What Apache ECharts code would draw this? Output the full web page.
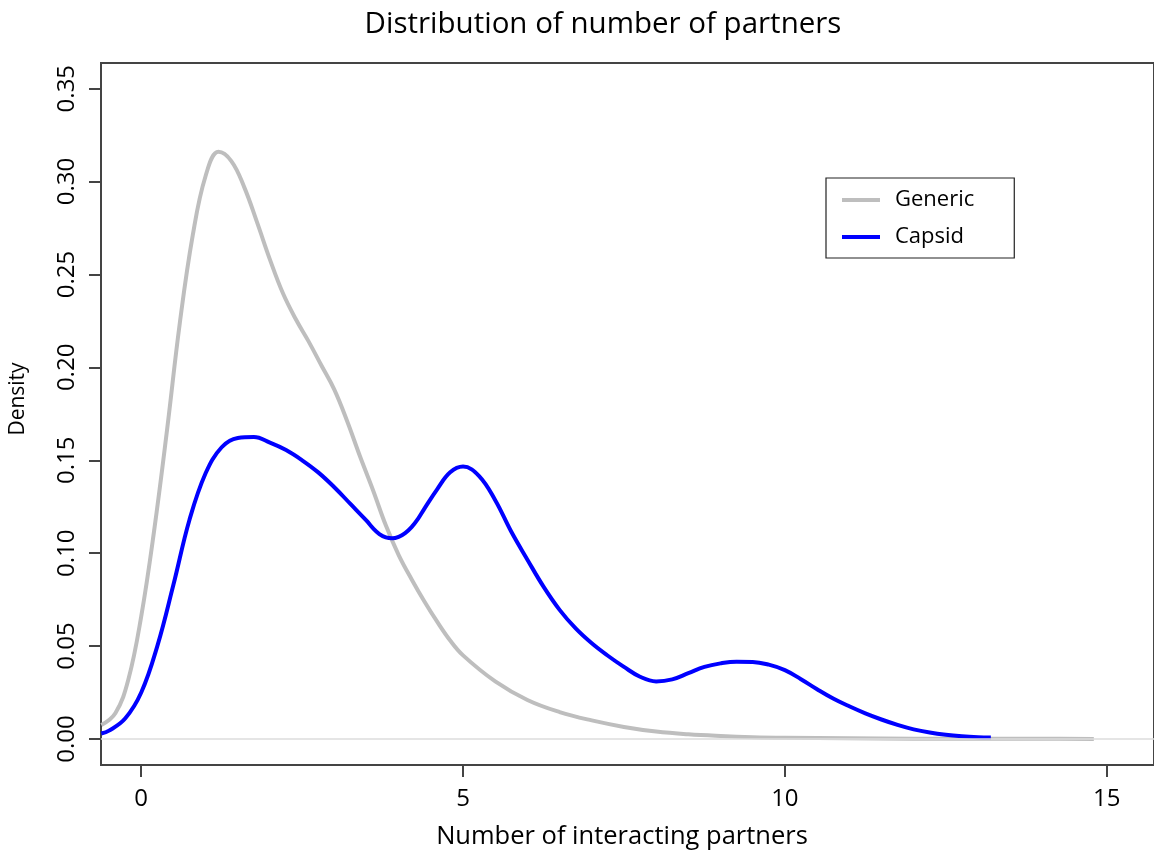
<!DOCTYPE html>
<html>
<head>
<meta charset="utf-8">
<script src="https://cdn.jsdelivr.net/npm/echarts@6/dist/echarts.min.js"></script>
<style>
html,body{margin:0;padding:0;background:#fff;}
#chart{width:1154px;height:861px;}
</style>
</head>
<body>
<div id="chart"></div>
<script>
// ---- data ----
const seriesNames = ['Generic', 'Capsid'];
const xTicks = [0, 5, 10, 15];
const yTicks = [0, 0.05, 0.10, 0.15, 0.20, 0.25, 0.30, 0.35];

const genericX = [-0.62,-0.4,-0.2,0.0,0.2,0.4,0.6,0.8,1.0,1.2,1.4,1.6,1.8,2.0,2.2,2.4,2.6,2.8,3.0,3.2,3.4,3.6,3.8,4.0,4.2,4.4,4.6,4.8,5.0,5.5,6.0,6.5,7.0,7.5,8.0,8.5,9.0,9.5,10.0,11.0,12.0,13.0,14.0,14.8];
const genericY = [0.0075,0.014,0.032,0.066,0.112,0.166,0.224,0.271,0.303,0.316,0.311,0.297,0.278,0.258,0.240,0.226,0.214,0.201,0.188,0.171,0.152,0.134,0.115,0.099,0.086,0.074,0.063,0.053,0.045,0.031,0.021,0.0145,0.010,0.0065,0.0040,0.0025,0.0016,0.0010,0.0007,0.0004,0.0002,0.0001,0.0001,0.0];

const capsidX = [-0.62,-0.5,-0.25,0.0,0.25,0.5,0.75,1.0,1.25,1.5,1.75,2.0,2.25,2.5,2.75,3.0,3.25,3.5,3.6,3.7,3.8,3.9,4.0,4.1,4.2,4.3,4.4,4.6,4.8,5.0,5.25,5.5,5.75,6.0,6.25,6.5,6.75,7.0,7.25,7.5,7.75,8.0,8.25,8.5,8.75,9.0,9.25,9.5,9.75,10.0,10.25,10.5,10.75,11.0,11.25,11.5,11.75,12.0,12.25,12.5,12.75,13.0,13.2];
const capsidY = [0.003,0.0045,0.011,0.025,0.050,0.083,0.118,0.143,0.157,0.162,0.1625,0.1595,0.1555,0.150,0.1435,0.1355,0.1265,0.1175,0.1135,0.1103,0.1085,0.1080,0.1088,0.1108,0.1140,0.1185,0.1240,0.1345,0.1435,0.1466,0.1415,0.1285,0.1115,0.0965,0.082,0.0695,0.0595,0.0515,0.0448,0.0388,0.0335,0.0310,0.0321,0.0354,0.0388,0.0407,0.0416,0.0415,0.0400,0.0371,0.0322,0.0268,0.0218,0.0176,0.0138,0.0105,0.0076,0.0052,0.0035,0.0023,0.0015,0.0010,0.0008];

const zip = (xs, ys) => xs.map((x, i) => [x, ys[i]]);

const FONT = 'Open Sans';
const AX = '#444';

const chart = echarts.init(document.getElementById('chart'), null, {renderer: 'canvas'});
chart.setOption({
  animation: false,
  backgroundColor: '#fff',
  textStyle: {fontFamily: FONT},
  title: [
    {text: 'Distribution of number of partners', left: 598, top: 5, textAlign: 'center',
     textStyle: {fontFamily: FONT, fontSize: 29.5, fontWeight: 'normal', color: '#000'}},
    {text: 'Number of interacting partners', left: 617, top: 819, textAlign: 'center',
     textStyle: {fontFamily: FONT, fontSize: 25.5, fontWeight: 'normal', color: '#000'}}
  ],
  graphic: [
    {type: 'text', x: 8, y: 399, rotation: Math.PI / 2,
     style: {text: 'Density', fontFamily: FONT, fontSize: 21, fill: '#000', align: 'center', verticalAlign: 'top'}}
  ],
  legend: {
    orient: 'vertical', left: 826, top: 178,
    data: seriesNames,
    icon: 'rect', itemWidth: 38, itemHeight: 4, itemGap: 15,
    padding: [11, 40, 10, 16],
    borderColor: '#222', borderWidth: 1.2, borderRadius: 0,
    textStyle: {fontFamily: FONT, fontSize: 22, color: '#000', padding: [0, 0, 0, 10]}
  },
  grid: {left: 101, top: 63, right: -12, bottom: 96, show: true, borderColor: AX, borderWidth: 2},
  xAxis: {
    type: 'value', min: -0.625, max: 15.735,
    axisLine: {show: true, onZero: false, lineStyle: {color: AX, width: 2}},
    splitLine: {show: false},
    axisTick: {show: true, length: 12, lineStyle: {color: AX, width: 2}, customValues: xTicks},
    axisLabel: {show: true, margin: 22, fontFamily: FONT, fontSize: 24, color: '#000', customValues: xTicks}
  },
  yAxis: {
    type: 'value', min: -0.01399, max: 0.3638,
    axisLine: {show: true, onZero: false, lineStyle: {color: AX, width: 2}},
    splitLine: {show: false},
    axisTick: {show: true, length: 12, lineStyle: {color: AX, width: 2}, customValues: yTicks},
    axisLabel: {show: true, rotate: 90, margin: 22, fontFamily: FONT, fontSize: 24, color: '#000',
      customValues: yTicks, formatter: v => v.toFixed(2)}
  },
  series: [
    {name: 'Generic', type: 'line', data: zip(genericX, genericY), smooth: 0.4, showSymbol: false,
     color: '#bebebe', lineStyle: {color: '#bebebe', width: 4}, z: 2,
     markLine: {silent: true, symbol: 'none', label: {show: false},
       lineStyle: {color: '#dddddd', width: 1.5, type: 'solid'}, data: [{yAxis: 0}]}},
    {name: 'Capsid', type: 'line', data: zip(capsidX, capsidY), smooth: 0.4, showSymbol: false,
     color: '#0000ff', lineStyle: {color: '#0000ff', width: 4}, z: 3}
  ]
});
</script>
</body>
</html>
